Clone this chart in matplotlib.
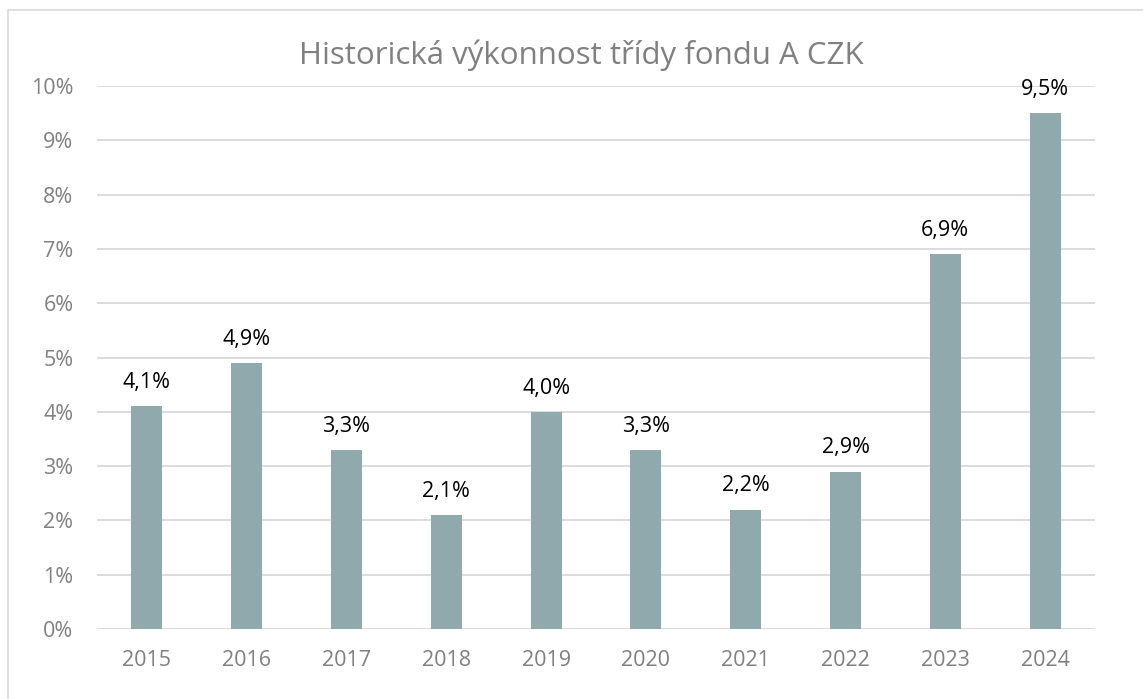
import matplotlib
matplotlib.use("Agg")
import matplotlib.pyplot as plt
from matplotlib.patches import Rectangle
from matplotlib.ticker import FuncFormatter

years = ["2015", "2016", "2017", "2018", "2019", "2020", "2021", "2022", "2023", "2024"]
values = [4.1, 4.9, 3.3, 2.1, 4.0, 3.3, 2.2, 2.9, 6.9, 9.5]
title = "Historická výkonnost třídy fondu A CZK"

plt.rcParams['font.family'] = ['Open Sans', 'DejaVu Sans']

W, H = 1143, 699
fig = plt.figure(figsize=(W / 100, H / 100), dpi=100)
ax = fig.add_axes([97 / W, 1 - 629 / H, (1095 - 97) / W, (629 - 86) / H])

x = list(range(len(years)))
ax.bar(x, values, width=0.31, color="#8FA9AC", zorder=3)
for xi, v in zip(x, values):
    ax.annotate(f"{v:.1f}%".replace(".", ","), (xi, v), xytext=(0, 13),
                textcoords="offset points", ha="center", va="baseline",
                fontsize=15.5, color="#000000", fontweight="medium")

ax.set_xlim(-0.5, len(years) - 0.5)
ax.set_ylim(0, 10)
ax.set_yticks(range(0, 11))
ax.yaxis.set_major_formatter(FuncFormatter(lambda v, p: f"{int(v)}%"))
ax.set_xticks(x)
ax.set_xticklabels(years)
ax.grid(axis="y", color="#D9D9D9", linewidth=1.3, zorder=0)
for s in ax.spines.values():
    s.set_visible(False)
ax.tick_params(axis="both", length=0, labelsize=15.5, labelcolor="#808080")
ax.tick_params(axis="x", pad=15)
ax.tick_params(axis="y", pad=17)

fig.text(581 / W, 1 - 55 / H, title, ha="center", va="center",
         fontsize=22.5, color="#808080")

fig.patches.append(Rectangle((8 / W, -0.01), 1.02, 1 - 10 / H + 0.01,
                             transform=fig.transFigure, fill=False,
                             edgecolor="#D9D9D9", linewidth=1.2))

fig.savefig("out.png", dpi=100)
